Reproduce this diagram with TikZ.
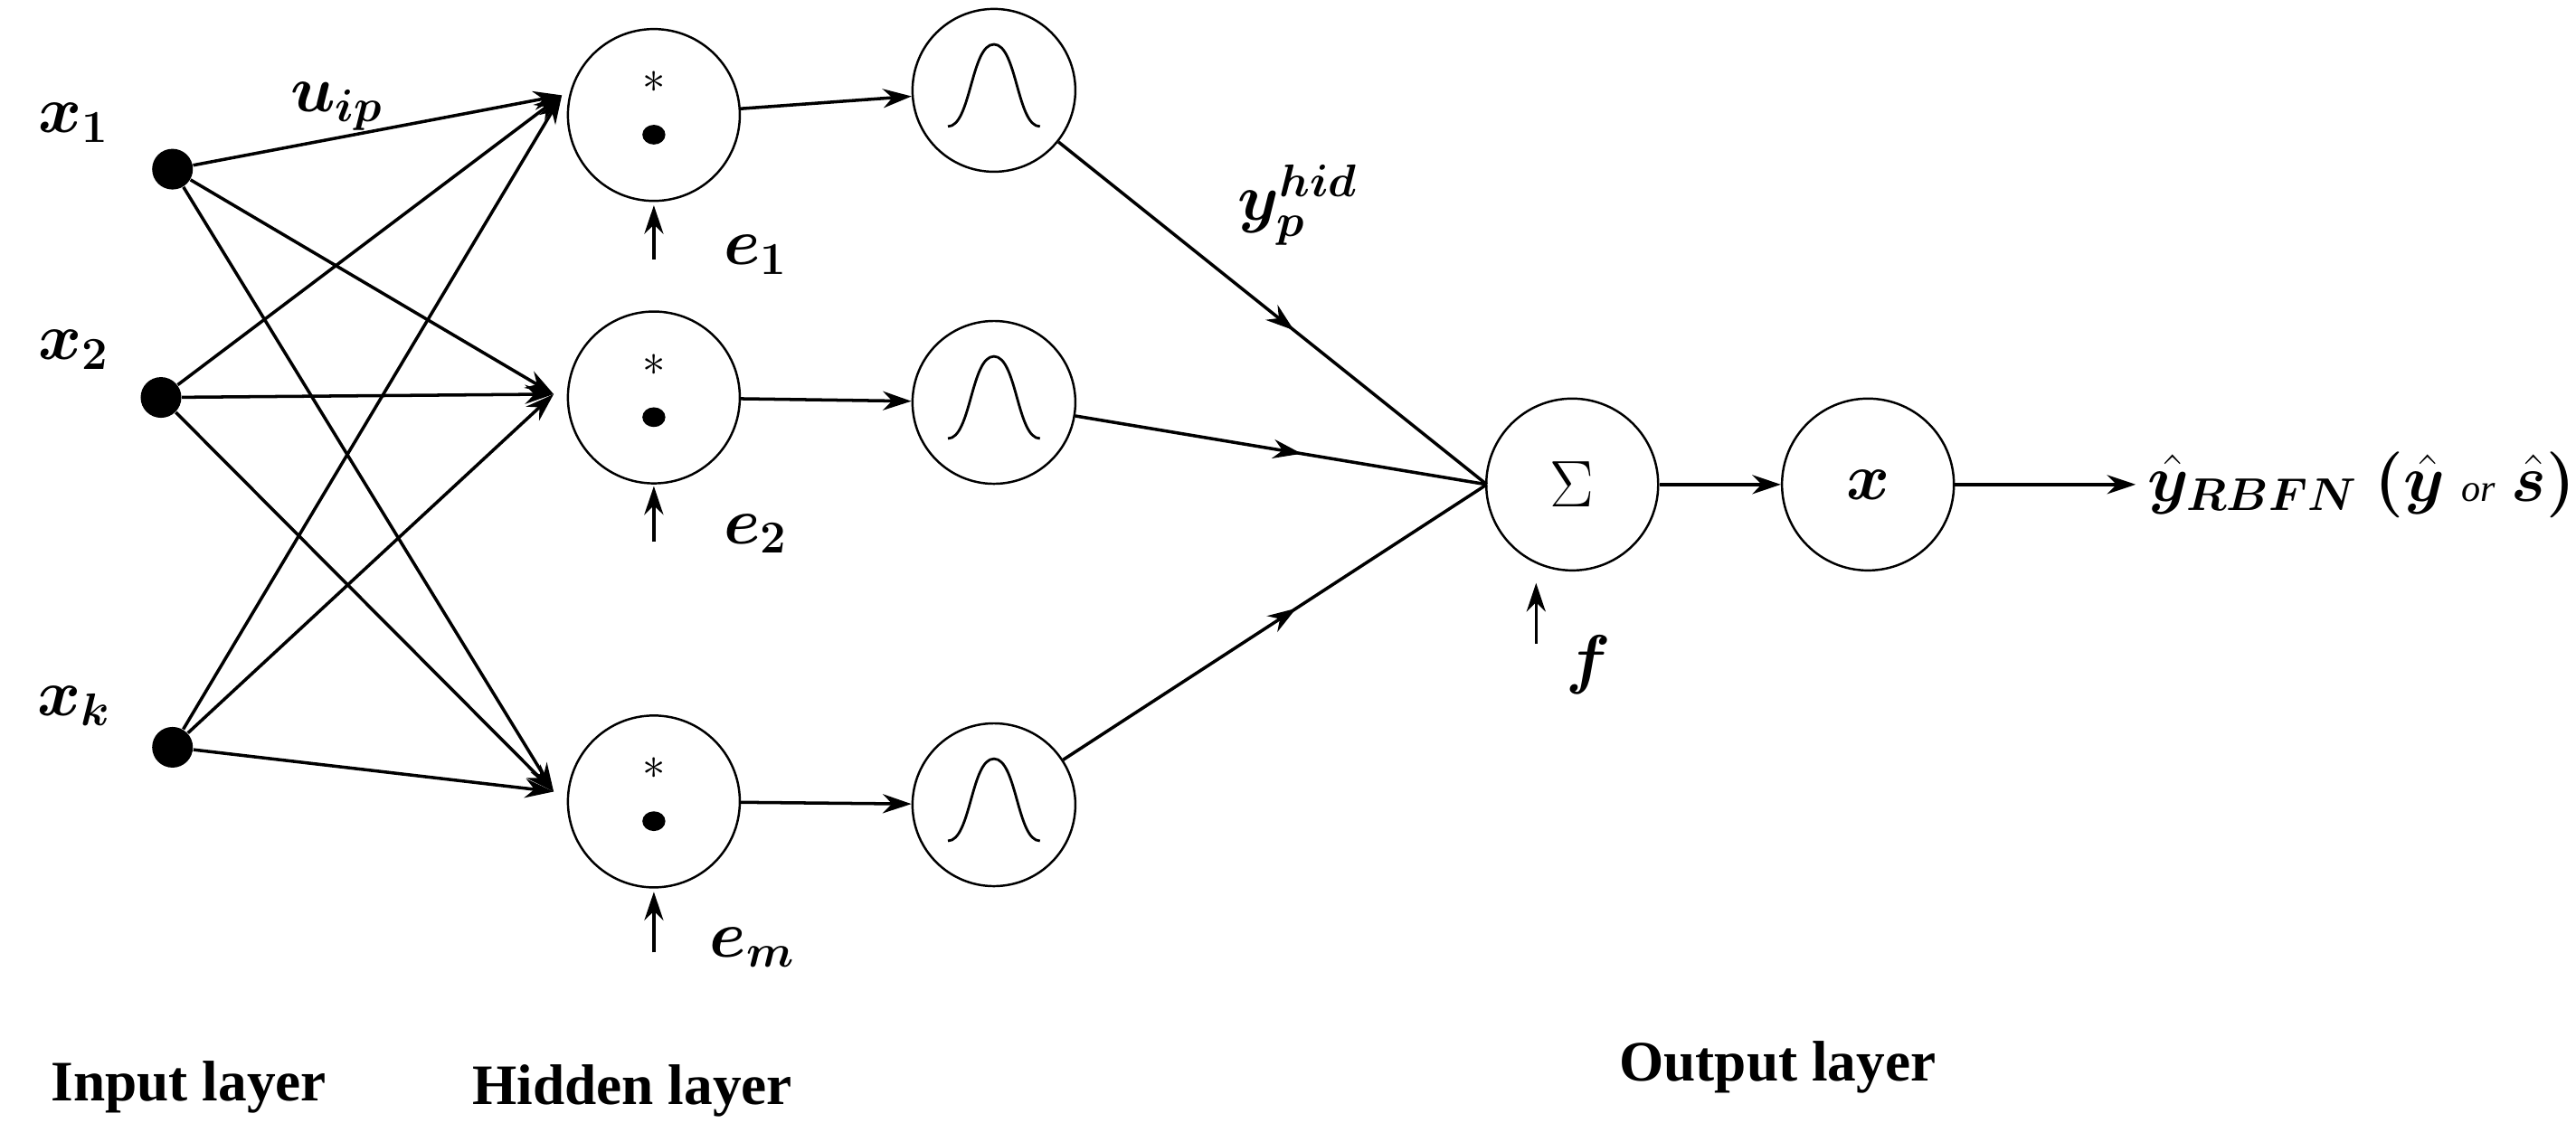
\documentclass[tikz,border=0pt]{standalone}
\usepackage{amsmath,bm}
\usepackage{fontspec}
\setmainfont{Liberation Serif}
\usetikzlibrary{arrows.meta,decorations.markings,calc}
\begin{document}
\begin{tikzpicture}[x=0.01816cm,y=-0.01816cm,
  inp/.style={circle,fill=black,inner sep=0pt,minimum size=0.45cm},
  neu/.style={circle,draw,line width=0.7pt,minimum size=1.9cm,inner sep=0pt},
  arr/.style={-{Stealth[length=9pt,width=6pt]},line width=1pt},
  midarr/.style={line width=1pt,postaction={decorate},decoration={markings,
     mark=at position 0.55 with {\arrow{Stealth[length=9pt,width=6pt]}}}},
  lab/.style={font=\huge},
  layer/.style={font=\fontsize{18}{21}\selectfont\bfseries}
]
\useasboundingbox (0,0) rectangle (1568,695);

% input layer
\node[inp] (x1) at (105,103) {};
\node[inp] (x2) at (98,242) {};
\node[inp] (xk) at (105,455) {};
\node[lab] (lx1) at (45,75) {$\bm{x_1}$};
\node[lab] (lx2) at (45,213) {$\bm{x_2}$};
\node[lab] (lxk) at (45,430) {$\bm{x_k}$};
\node[lab] (uip) at (205,65) {$\bm{u_{ip}}$};

% hidden layer
\foreach \n/\y/\gy in {1/70/55,2/242/245,3/488/490}{
  \node[neu] (h\n) at (398,\y) {};
  \node (s\n) at (398,\y-20) {\Large $*$};
  \fill (398,\y+12) ellipse (7 and 6);
  \node[neu,minimum size=1.8cm] (g\n) at (605,\gy) {};
}
\coordinate (in1) at (342,58);
\coordinate (in2) at (337,240);
\coordinate (in3) at (337,482);
\foreach \n in {1,2,3}{
  \draw[line width=0.8pt] ($(g\n)+(-28,22)$) .. controls ($(g\n)+(-14,22)$) and ($(g\n)+(-14,-28)$) .. ($(g\n)+(0,-28)$)
     .. controls ($(g\n)+(14,-28)$) and ($(g\n)+(14,22)$) .. ($(g\n)+(28,22)$);
  \draw[arr] (h\n) -- (g\n);
}
\foreach \i in {x1,x2,xk}{
  \foreach \n in {1,2,3}{
    \draw[arr] (\i) -- (in\n);
  }
}

% centres
\coordinate (e1t) at (398,125);
\coordinate (e1b) at (398,158);
\coordinate (e2t) at (398,296);
\coordinate (e2b) at (398,330);
\coordinate (e3t) at (398,543);
\coordinate (e3b) at (398,580);
\draw[arr] (e1b) -- (e1t);
\draw[arr] (e2b) -- (e2t);
\draw[arr] (e3b) -- (e3t);
\node[lab] (le1) at (460,155) {$\bm{e_1}$};
\node[lab] (le2) at (460,325) {$\bm{e_2}$};
\node[lab] (le3) at (458,577) {$\bm{e_m}$};

% output layer
\node[neu] (sum) at (957,295) {\huge $\Sigma$};
\node[neu] (xo) at (1137,295) {\huge $\bm{x}$};
\coordinate (sin) at (905,295);
\foreach \n in {1,2,3}{
  \draw[midarr] (g\n) -- (sin);
}
\node[lab] (yh) at (790,125) {$\bm{y_p^{hid}}$};
\coordinate (ft) at (935,355);
\coordinate (fb) at (935,392);
\draw[arr] (fb) -- (ft);
\node[lab] (lf) at (967,405) {$\bm{f}$};
\draw[arr] (sum) -- (xo);
\coordinate (out) at (1300,295);
\draw[arr] (xo) -- (out);
\node[lab,anchor=west,inner sep=1pt] (ly) at (1305,295) {$\bm{\hat{y}_{RBFN}}\ \bm{(\hat{y}}$ {\large\itshape or} $\bm{\hat{s})}$};

% layer names
\node[layer] (il) at (115,662) {Input layer};
\node[layer] (hl) at (385,664) {Hidden layer};
\node[layer] (ol) at (1082,650) {Output layer};
\end{tikzpicture}
\end{document}
